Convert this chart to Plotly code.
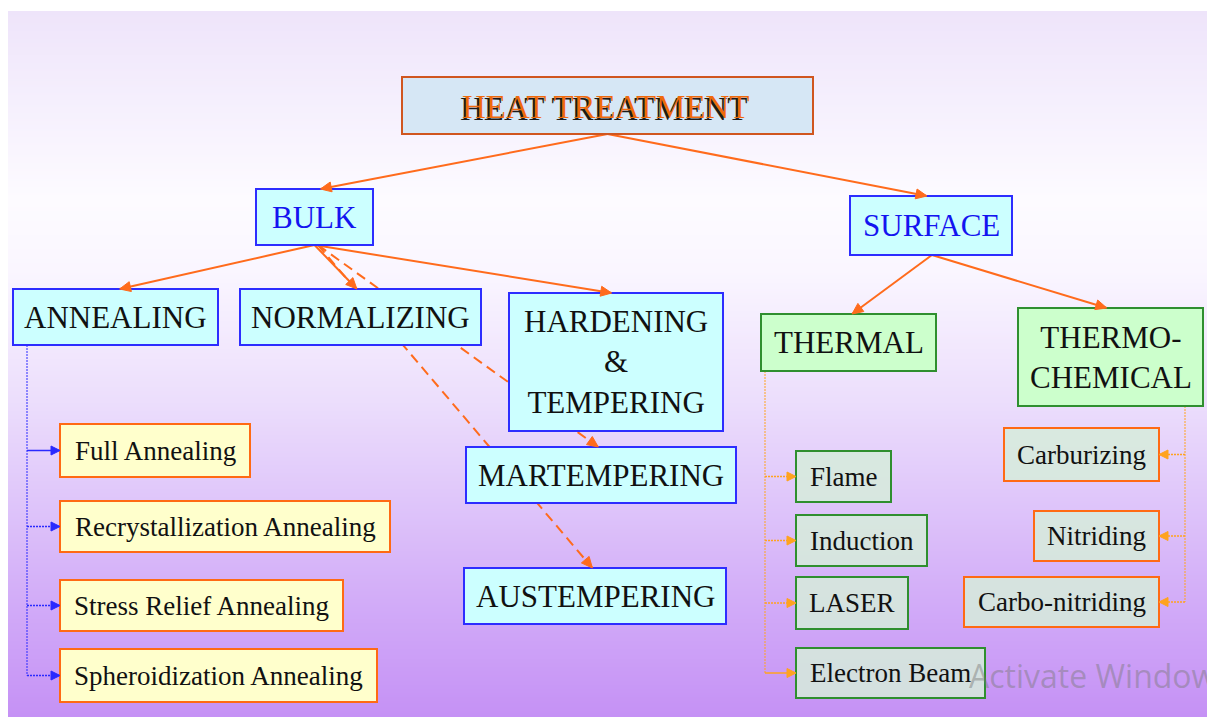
import numpy as np
import plotly.graph_objects as go

# ---------------- content (text of the diagram) ----------------
root_label = "HEAT TREATMENT"
level1_labels = ["BULK", "SURFACE"]
bulk_children = ["ANNEALING", "NORMALIZING", "HARDENING<br>&<br>TEMPERING"]
bulk_dashed_children = ["MARTEMPERING", "AUSTEMPERING"]
annealing_types = ["Full Annealing", "Recrystallization Annealing",
                   "Stress Relief Annealing", "Spheroidization Annealing"]
surface_children = ["THERMAL", "THERMO-<br>CHEMICAL"]
thermal_methods = ["Flame", "Induction", "LASER", "Electron Beam"]
thermochemical_methods = ["Carburizing", "Nitriding", "Carbo-nitriding"]
watermark_lines = ["Activate Windows", "Go to Settings to activate Windows."]

# ---------------- layout geometry (page pixels: x0, x1, y0, y1) ----------------
W, H = 1207, 717
box_geom = {
    "HEAT TREATMENT": (402, 813, 77, 134),
    "BULK": (256, 373, 189, 245),
    "SURFACE": (850, 1012, 196, 255),
    "ANNEALING": (13, 218, 289, 345),
    "NORMALIZING": (240, 481, 289, 345),
    "HARDENING<br>&<br>TEMPERING": (509, 723, 293, 431),
    "MARTEMPERING": (466, 736, 447, 503),
    "AUSTEMPERING": (464, 726, 568, 624),
    "Full Annealing": (60, 250, 424, 477),
    "Recrystallization Annealing": (60, 390, 501, 552),
    "Stress Relief Annealing": (60, 343, 580, 631),
    "Spheroidization Annealing": (60, 377, 649, 702),
    "THERMAL": (761, 936, 314, 371),
    "THERMO-<br>CHEMICAL": (1018, 1203, 308, 406),
    "Flame": (796, 891, 451, 502),
    "Induction": (796, 927, 515, 566),
    "LASER": (796, 908, 577, 629),
    "Electron Beam": (796, 985, 648, 698),
    "Carburizing": (1004, 1159, 428, 481),
    "Nitriding": (1034, 1159, 511, 561),
    "Carbo-nitriding": (964, 1159, 577, 627),
}

# ---------------- styles ----------------
SERIF = "Liberation Serif, Times New Roman, serif"
ORANGE_LINE = "#ff6b1c"
styles = {
    "root": dict(fill="#d6e7f5", border="#d0561f", bw=2, color="#ef6a0c", size=33),
    "level1": dict(fill="#ccffff", border="#2d2dff", bw=2, color="#1414f0", size=31),
    "bulk": dict(fill="#ccffff", border="#2d2dff", bw=2, color="#111111", size=31),
    "anneal": dict(fill="#ffffcc", border="#ff6a14", bw=2, color="#111111", size=27),
    "surface": dict(fill="#ccffcc", border="#2f8f2f", bw=2, color="#111111", size=31),
    "thermal": dict(fill="rgba(214,236,218,0.85)", border="#2f8f2f", bw=2, color="#111111", size=27),
    "chem": dict(fill="rgba(214,236,218,0.85)", border="#ff6a14", bw=2, color="#111111", size=27),
}
node_groups = [
    ([root_label], "root"),
    (level1_labels, "level1"),
    (bulk_children + bulk_dashed_children, "bulk"),
    (annealing_types, "anneal"),
    (surface_children, "surface"),
    (thermal_methods, "thermal"),
    (thermochemical_methods, "chem"),
]

# straight tree edges: (parent, child, parent bottom fraction, child top fraction, dashed)
tree_edges = [
    (root_label, "BULK", 0.5, 0.55, False),
    (root_label, "SURFACE", 0.5, 0.475, False),
    ("BULK", bulk_children[0], 0.5, 0.52, False),
    ("BULK", bulk_children[1], 0.5, 0.485, False),
    ("BULK", bulk_children[2], 0.5, 0.48, False),
    ("BULK", bulk_dashed_children[0], 0.53, 0.49, True),
    ("BULK", bulk_dashed_children[1], 0.53, 0.49, True),
    ("SURFACE", surface_children[0], 0.506, 0.52, False),
    ("SURFACE", surface_children[1], 0.506, 0.48, False),
]

# elbow connectors: parent, children, trunk offset, side, colour, branch dash styles
elbow_groups = [
    ("ANNEALING", annealing_types, ("x0", 14), "right", "#2a2aff",
     ["solid", "2px,1px", "2px,1px", "2px,1px"]),
    ("THERMAL", thermal_methods, ("x0", 4), "right", "#ffa31f",
     ["2px,1px", "2px,1px", "2px,1px", "solid"]),
    ("THERMO-<br>CHEMICAL", thermochemical_methods, ("x1", -18), "left", "#ffa31f",
     ["2px,1px", "2px,1px", "2px,1px"]),
]

# background gradient stops (page y, rgb)
bg_stops = [(11, (238, 228, 250)), (100, (245, 239, 253)), (200, (253, 251, 255)),
            (270, (250, 246, 255)), (400, (236, 222, 252)), (500, (223, 198, 250)),
            (600, (210, 172, 248)), (717, (197, 145, 245))]

fig = go.Figure()

# ---- background gradient ----
y_edges = np.arange(11, H + 1, 2)
y_mid = (y_edges[:-1] + y_edges[1:]) / 2
cscale = [[(y - 11) / (H - 11), "rgb(%d,%d,%d)" % c] for y, c in bg_stops]
fig.add_trace(go.Heatmap(
    z=[[v] for v in y_mid], x=[8, W], y=y_edges, zmin=11, zmax=H,
    colorscale=cscale, showscale=False, hoverinfo="skip"))

annotations = []


def arrow_head(tip, direction, color, length=11, half=5):
    ux, uy = direction
    n = np.hypot(ux, uy)
    ux, uy = ux / n, uy / n
    bx, by = tip[0] - length * ux, tip[1] - length * uy
    px, py = -uy, ux
    p1 = (bx + half * px, by + half * py)
    p2 = (bx - half * px, by - half * py)
    path = "M %.1f %.1f L %.1f %.1f L %.1f %.1f Z" % (tip[0], tip[1], p1[0], p1[1], p2[0], p2[1])
    return dict(type="path", path=path, fillcolor=color, line=dict(color=color, width=1),
                xref="x", yref="y")


line_shapes = []
head_shapes = []

# ---- straight edges ----
for parent, child, pf, cf, dashed in tree_edges:
    px0, px1, py0, py1 = box_geom[parent]
    cx0, cx1, cy0, cy1 = box_geom[child]
    start = (px0 + pf * (px1 - px0), py1)
    tip = (cx0 + cf * (cx1 - cx0), cy0)
    line_shapes.append(dict(type="line", x0=start[0], y0=start[1], x1=tip[0], y1=tip[1],
                            xref="x", yref="y",
                            line=dict(color=ORANGE_LINE, width=2, dash="10px,6px" if dashed else "solid")))
    head_shapes.append(arrow_head(tip, (tip[0] - start[0], tip[1] - start[1]), ORANGE_LINE))

# ---- elbow connectors ----
for parent, children, (edge, off), side, color, dashes in elbow_groups:
    px0, px1, py0, py1 = box_geom[parent]
    tx = (px0 if edge == "x0" else px1) + off
    ys = []
    for ch, dsh in zip(children, dashes):
        cx0, cx1, cy0, cy1 = box_geom[ch]
        cy = (cy0 + cy1) / 2
        ys.append(cy)
        tipx = cx0 if side == "right" else cx1
        line_shapes.append(dict(type="line", x0=tx, y0=cy, x1=tipx, y1=cy, xref="x", yref="y",
                                line=dict(color=color, width=1.5, dash=dsh)))
        head_shapes.append(arrow_head((tipx, cy), (tipx - tx, 0), color, length=9, half=4.5))
    line_shapes.append(dict(type="line", x0=tx, y0=py1, x1=tx, y1=max(ys), xref="x", yref="y",
                            line=dict(color=color, width=1, dash="2px,1px")))

# ---- boxes & labels ----
box_shapes = []
for labels, sname in node_groups:
    st = styles[sname]
    for lab in labels:
        x0, x1, y0, y1 = box_geom[lab]
        box_shapes.append(dict(type="rect", x0=x0, x1=x1, y0=y0, y1=y1, xref="x", yref="y",
                               fillcolor=st["fill"], line=dict(color=st["border"], width=st["bw"])))
        cx, cy = (x0 + x1) / 2, (y0 + y1) / 2
        if sname == "root":
            annotations.append(dict(x=cx - 2, y=cy + 1, text=lab, showarrow=False, xref="x", yref="y",
                                    xshift=-2, yshift=-2,
                                    font=dict(family=SERIF, size=st["size"], color="#1a1a1a")))
            annotations.append(dict(x=cx - 2, y=cy + 1, text=lab, showarrow=False, xref="x", yref="y",
                                    font=dict(family=SERIF, size=st["size"], color=st["color"])))
        else:
            annotations.append(dict(x=cx, y=cy, text=lab, showarrow=False, xref="x", yref="y",
                                    font=dict(family=SERIF, size=st["size"], color=st["color"])))

# ---- watermark ----
annotations.append(dict(x=967, y=675, text=watermark_lines[0], showarrow=False, xref="x", yref="y",
                        xanchor="left", yanchor="middle",
                        font=dict(family="Open Sans, Noto Sans, sans-serif", size=32,
                                  color="rgba(120,120,120,0.45)")))
annotations.append(dict(x=967, y=721, text=watermark_lines[1], showarrow=False, xref="x", yref="y",
                        xanchor="left", yanchor="middle",
                        font=dict(family="Open Sans, Noto Sans, sans-serif", size=20,
                                  color="rgba(120,120,120,0.45)")))

fig.update_layout(
    width=W, height=H, margin=dict(l=0, r=0, t=0, b=0),
    paper_bgcolor="white", plot_bgcolor="white",
    xaxis=dict(range=[0, W], visible=False, fixedrange=True),
    yaxis=dict(range=[H, 0], visible=False, fixedrange=True),
    shapes=line_shapes + box_shapes + head_shapes,
    annotations=annotations,
    showlegend=False,
)

# remove the default 8px body margin so the figure fills the window exactly
fig.write_html("out.html", config={"displayModeBar": False},
               post_script="document.body.style.margin='0';document.body.style.overflow='hidden';")
